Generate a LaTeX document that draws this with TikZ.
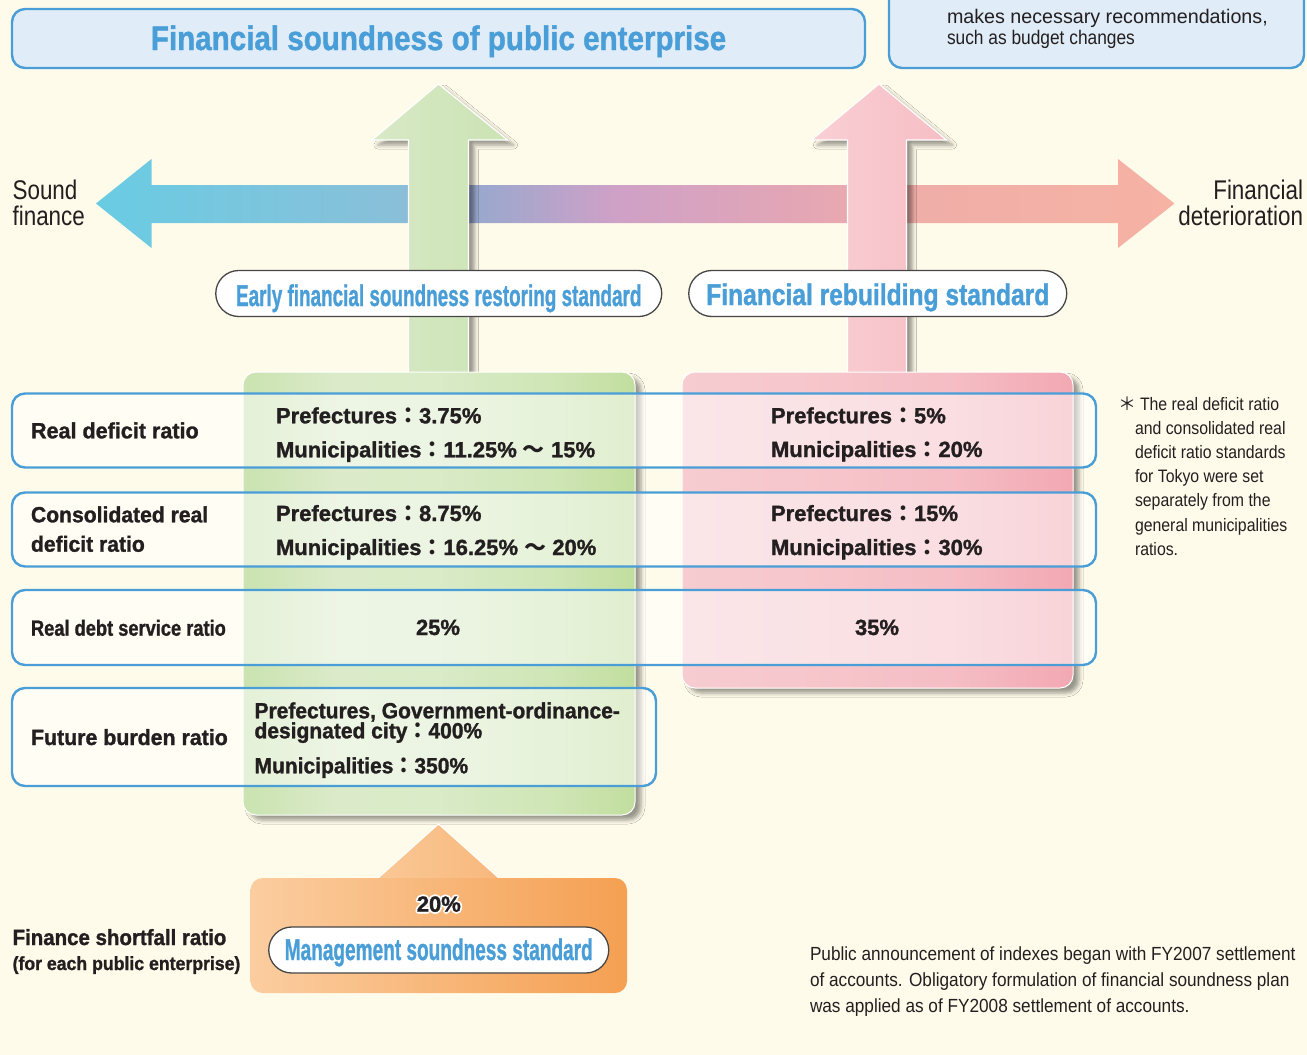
\documentclass[tikz,border=0pt]{standalone}
\usepackage{fontspec}
\setmainfont{Liberation Sans}[BoldFeatures={FakeBold=1.3}]
\newfontfamily\cjk{Noto Sans CJK JP}
\usepackage{graphicx}
\usetikzlibrary{shadows.blur}

\definecolor{bg}{RGB}{255,251,234}
\definecolor{ink}{RGB}{35,31,32}
\definecolor{sky}{RGB}{74,158,216}
\definecolor{titlefill}{RGB}{224,236,247}
\definecolor{pillline}{RGB}{70,70,70}
\definecolor{garL}{RGB}{216,233,198}
\definecolor{garR}{RGB}{203,227,180}
\definecolor{parL}{RGB}{249,207,212}
\definecolor{parR}{RGB}{246,190,197}
\definecolor{orA}{RGB}{251,205,160}
\definecolor{orB}{RGB}{245,160,82}
\definecolor{orT}{RGB}{250,200,150}
\definecolor{orT2}{RGB}{248,184,124}

\pgfdeclarehorizontalshading{hbar}{100bp}{
 rgb(0bp)=(0.41,0.80,0.89);
 rgb(25bp)=(0.41,0.80,0.89);
 rgb(39bp)=(0.54,0.75,0.85);
 rgb(42.3bp)=(0.59,0.66,0.81);
 rgb(49bp)=(0.81,0.63,0.78);
 rgb(57.6bp)=(0.89,0.65,0.71);
 rgb(62.7bp)=(0.94,0.68,0.66);
 rgb(75bp)=(0.965,0.70,0.64);
 rgb(100bp)=(0.965,0.70,0.64)}
\pgfdeclarehorizontalshading{gpanel}{100bp}{
 rgb(0bp)=(0.79,0.89,0.69);
 rgb(25bp)=(0.79,0.89,0.69);
 rgb(37bp)=(0.86,0.92,0.79);
 rgb(50bp)=(0.85,0.92,0.78);
 rgb(65bp)=(0.81,0.90,0.71);
 rgb(75bp)=(0.76,0.87,0.62);
 rgb(100bp)=(0.76,0.87,0.62)}
\pgfdeclarehorizontalshading{ppanel}{100bp}{
 rgb(0bp)=(0.965,0.80,0.82);
 rgb(25bp)=(0.965,0.80,0.82);
 rgb(40bp)=(0.965,0.78,0.80);
 rgb(60bp)=(0.96,0.74,0.77);
 rgb(75bp)=(0.95,0.66,0.70);
 rgb(100bp)=(0.95,0.66,0.70)}

\newcommand{\sx}[2]{\scalebox{#1}[1]{#2}}
\newcommand{\fsz}[1]{\fontsize{#1}{#1}\selectfont}
\newcommand{\fcolon}{{\cjk ：}}
\newcommand{\fwave}{{\cjk ～}}

\begin{document}
\begin{tikzpicture}[x=1pt,y=-1pt,
  every node/.style={inner sep=0pt, outer sep=0pt},
  bluebox/.style={draw=sky, line width=2.4pt, fill=titlefill, rounded corners=13pt},
  rowbox/.style={draw=sky, line width=2.4pt, rounded corners=13pt, fill=white, fill opacity=0.5},
  pill/.style={draw=pillline, line width=1.3pt, fill=white, rounded corners=23pt},
  pilltxt/.style={text=sky, font=\bfseries\fsz{30}, anchor=base},
  lbl/.style={text=ink, font=\bfseries\fsz{22}, anchor=base west},
  val/.style={text=ink, font=\bfseries\fsz{22}, anchor=base west},
  side/.style={text=ink, font=\fsz{27}},
  note/.style={text=ink, font=\fsz{18}, anchor=base west},
  bnote/.style={text=ink, font=\fsz{19}, anchor=base west},
  softshadow/.style={blur shadow={shadow xshift=6pt, shadow yshift=-5pt, shadow blur radius=4pt, shadow opacity=40}}
]
\fill[bg] (0,0) rectangle (1307,1055);
\useasboundingbox (0,0) rectangle (1307,1055);

% title boxes
\node[bluebox, minimum width=853pt, minimum height=59pt] (title) at (438.5,38.5) {};
\node[text=sky, font=\bfseries\fsz{34}, anchor=base] (ttl) at (438.5,50) {\sx{0.87}{Financial soundness of public enterprise}};
\node[bluebox, minimum width=415pt, minimum height=100pt] (rec) at (1096.5,18) {};
\node[text=ink, font=\fsz{19.7}, anchor=base west] (rec1) at (947,23.3) {makes necessary recommendations,};
\node[text=ink, font=\fsz{19.7}, anchor=base west] (rec2) at (947,44.3) {\sx{0.88}{such as budget changes}};

% horizontal double arrow
\path[shade, shading=hbar] (96,203.5) -- (151.5,159) -- (151.5,185) -- (1118,185) -- (1118,159)
  -- (1174.5,203.5) -- (1118,248) -- (1118,223) -- (151.5,223) -- (151.5,248) -- cycle;
\node[side, anchor=base west] (snd) at (12.6,199.3) {\sx{0.83}{Sound}};
\node[side, anchor=base west] (sfin) at (12.6,225.7) {\sx{0.83}{finance}};
\node[side, anchor=base east] (dfin) at (1303,199.3) {\sx{0.83}{Financial}};
\node[side, anchor=base east] (ddet) at (1303,225.7) {\sx{0.83}{deterioration}};

% vertical arrows
\path[softshadow, shade, left color=garL, right color=garR, draw=white, line width=1.2pt]
  (438.5,84) -- (507.5,140) -- (468.5,140) -- (468.5,395) -- (408.5,395) -- (408.5,140) -- (372,140) -- cycle;
\path[softshadow, shade, left color=parL, right color=parR, draw=white, line width=1.2pt]
  (879,84) -- (946.5,140) -- (906.5,140) -- (906.5,395) -- (847.5,395) -- (847.5,140) -- (811.5,140) -- cycle;

% panels
\node[softshadow, shade, shading=gpanel, draw=white, line width=1pt, rounded corners=13pt,
  minimum width=392pt, minimum height=443pt] (gpan) at (439,593.5) {};
\node[softshadow, shade, shading=ppanel, draw=white, line width=1pt, rounded corners=13pt,
  minimum width=391pt, minimum height=316pt] (ppan) at (877.5,530) {};

% standard pills
\node[pill, minimum width=446pt, minimum height=46pt] (early) at (438.75,293.5) {};
\node[pilltxt] (earlyt) at (438.75,306) {\sx{0.63}{Early financial soundness restoring standard}};
\node[pill, minimum width=378pt, minimum height=46pt] (rebuild) at (877.75,293.5) {};
\node[pilltxt] (rebuildt) at (877.75,305) {\sx{0.82}{Financial rebuilding standard}};

% rows
\node[rowbox, minimum width=1084pt, minimum height=74pt] (r1) at (554,430.5) {};
\node[rowbox, minimum width=1084pt, minimum height=74pt] (r2) at (554,529.5) {};
\node[rowbox, minimum width=1084pt, minimum height=75pt] (r3) at (554,627.5) {};
\node[rowbox, minimum width=644pt, minimum height=98pt] (r4) at (334,737) {};

% row texts
\node[lbl] (l1) at (31,438.3) {\sx{0.98}{Real deficit ratio}};
\node[val] (v1a) at (276,423.3) {Prefectures\fcolon 3.75\%};
\node[val] (v1b) at (276,457.3) {Municipalities\fcolon 11.25\%\ \fwave\ 15\%};
\node[val] (w1a) at (771,423.3) {Prefectures\fcolon 5\%};
\node[val] (w1b) at (771,457) {Municipalities\fcolon 20\%};

\node[lbl] (l2a) at (31,522.3) {\sx{0.96}{Consolidated real}};
\node[lbl] (l2b) at (31,551.7) {\sx{0.96}{deficit ratio}};
\node[val] (v2a) at (276,521) {Prefectures\fcolon 8.75\%};
\node[val] (v2b) at (276,555) {Municipalities\fcolon 16.25\%\ \fwave\ 20\%};
\node[val] (w2a) at (771,521) {Prefectures\fcolon 15\%};
\node[val] (w2b) at (771,555) {Municipalities\fcolon 30\%};

\node[lbl] (l3) at (31,635.7) {\sx{0.83}{Real debt service ratio}};
\node[val, anchor=base] (v3) at (438,635) {25\%};
\node[val, anchor=base] (w3) at (877,635) {35\%};

\node[lbl] (l4) at (31,745) {\sx{0.97}{Future burden ratio}};
\node[val] (v4a) at (254.5,718.3) {\sx{0.955}{Prefectures, Government-ordinance-}};
\node[val] (v4b) at (254.5,738.3) {\sx{0.955}{designated city\fcolon 400\%}};
\node[val] (v4c) at (254.5,773.3) {\sx{0.955}{Municipalities\fcolon 350\%}};

% footnote
\node[note] (n0) at (1118,410) {{\cjk ＊}};
\node[note] (n1) at (1140,410) {\sx{0.88}{The real deficit ratio}};
\node[note] (n2) at (1135,434.2) {\sx{0.88}{and consolidated real}};
\node[note] (n3) at (1135,458.4) {\sx{0.88}{deficit ratio standards}};
\node[note] (n4) at (1135,482.6) {\sx{0.88}{for Tokyo were set}};
\node[note] (n5) at (1135,506.8) {\sx{0.88}{separately from the}};
\node[note] (n6) at (1135,531) {\sx{0.88}{general municipalities}};
\node[note] (n7) at (1135,555.2) {\sx{0.88}{ratios.}};

% management soundness
\path[shade, left color=orT, right color=orT2, draw=white, line width=1pt]
  (376,880) -- (438.5,824) -- (501,880);
\node[shade, left color=orA, right color=orB, rounded corners=12pt,
  minimum width=376.5pt, minimum height=115pt] (orbox) at (438.75,935.5) {};
\foreach \a [count=\i] in {0,45,...,315}
  \node[text=white, font=\bfseries\fsz{22}, anchor=base, shift={(\a:1.8pt)}] (halo\i) at (438.8,911.7) {20\%};
\node[text=ink, font=\bfseries\fsz{22}, anchor=base] (pct) at (438.8,911.7) {20\%};
\node[pill, minimum width=340pt, minimum height=46pt] (mgmt) at (438.75,950) {};
\node[pilltxt] (mgmtt) at (438.75,960) {\sx{0.635}{Management soundness standard}};

\node[lbl] (fsr) at (12.6,945) {\sx{0.93}{Finance shortfall ratio}};
\node[lbl, font=\bfseries\fsz{19}] (fsr2) at (12.6,970) {\sx{0.93}{(for each public enterprise)}};

% bottom note
\node[bnote] (b1) at (810,960) {\sx{0.905}{Public announcement of indexes began with FY2007 settlement}};
\node[bnote] (b2) at (810,986.3) {\sx{0.905}{of accounts. Obligatory formulation of financial soundness plan}};
\node[bnote] (b3) at (810,1012.6) {\sx{0.905}{was applied as of FY2008 settlement of accounts.}};
\end{tikzpicture}
\end{document}
